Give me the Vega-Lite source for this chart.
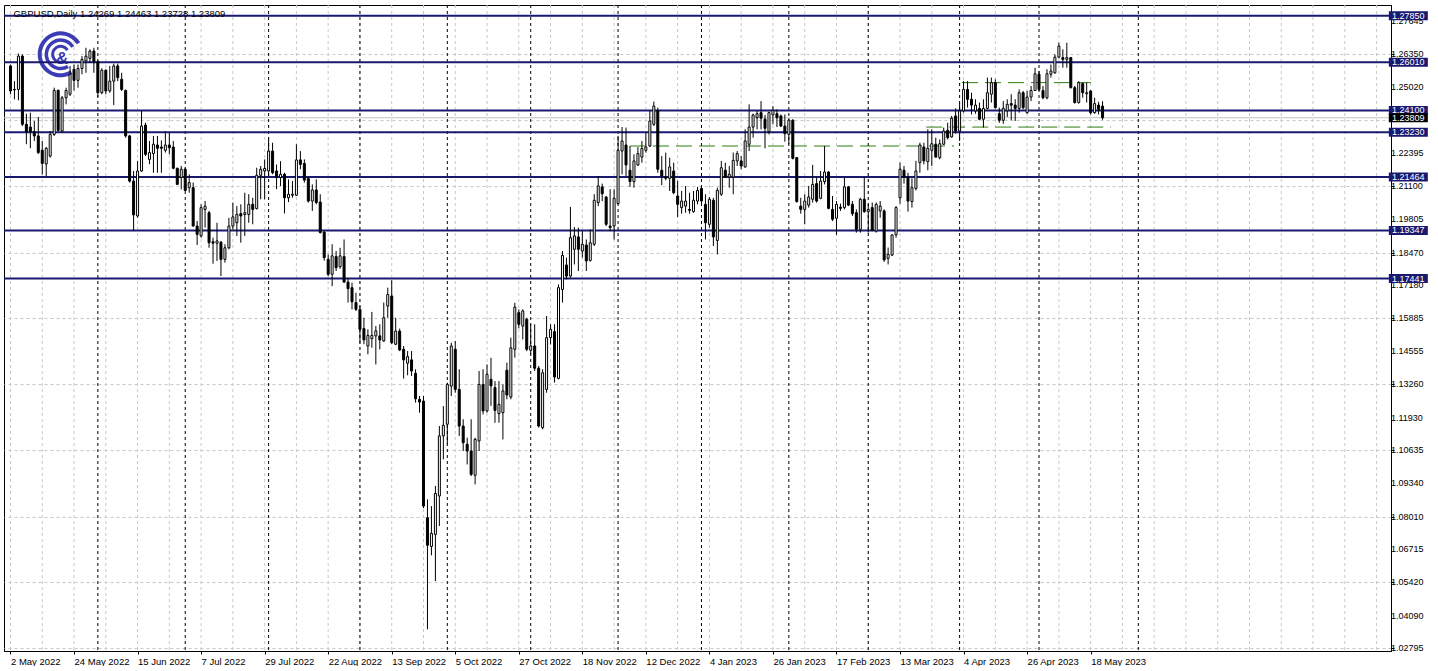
{
"$schema":"https://vega.github.io/schema/vega-lite/v6.json",
"width":1387,"height":646,
"padding":{"left":3,"top":4,"right":0,"bottom":0},
"autosize":{"type":"pad"},
"background":"white",
"config":{"view":{"stroke":"black","strokeWidth":1},"font":"Liberation Sans","axis":{"title":null}},
"datasets":{
"one":[{}],
"yticks":[{"v":1.02795},{"v":1.0409},{"v":1.0542},{"v":1.06715},{"v":1.0801},{"v":1.0934},{"v":1.10635},{"v":1.1193},{"v":1.1326},{"v":1.14555},{"v":1.15885},{"v":1.1718},{"v":1.1847},{"v":1.19805},{"v":1.211},{"v":1.22395},{"v":1.2502},{"v":1.2635},{"v":1.27645}],
"vgrid":[{"i":0},{"i":8},{"i":16},{"i":24},{"i":32},{"i":40},{"i":48},{"i":56},{"i":64},{"i":72},{"i":80},{"i":88},{"i":96},{"i":104},{"i":112},{"i":120},{"i":128},{"i":136},{"i":144},{"i":152},{"i":160},{"i":168},{"i":176},{"i":184},{"i":192},{"i":200},{"i":208},{"i":216},{"i":224},{"i":232},{"i":240},{"i":248},{"i":256},{"i":264},{"i":272},{"i":280},{"i":288},{"i":296},{"i":304},{"i":312},{"i":320},{"i":328},{"i":336},{"i":344}],
"seps":[{"i":22},{"i":44},{"i":65},{"i":88},{"i":110},{"i":131},{"i":153},{"i":174},{"i":196},{"i":216},{"i":239},{"i":259},{"i":284}],
"levels":[{"lvl":1.2785},{"lvl":1.2601},{"lvl":1.241},{"lvl":1.2323},{"lvl":1.21464},{"lvl":1.19347},{"lvl":1.17441}],
"trend":[{"x0":156,"x1":237.6,"lvl":1.2269},{"x0":230.6,"x1":277.1,"lvl":1.2344},{"x0":239.6,"x1":272.1,"lvl":1.252}],
"candles":[
{"i":0,"o":1.2586,"h":1.2592,"l":1.2474,"c":1.2487},
{"i":1,"o":1.2493,"h":1.2526,"l":1.2454,"c":1.2491},
{"i":2,"o":1.2493,"h":1.2635,"l":1.245,"c":1.2625},
{"i":3,"o":1.2625,"h":1.2632,"l":1.2348,"c":1.2355},
{"i":4,"o":1.2355,"h":1.2397,"l":1.2276,"c":1.2326},
{"i":5,"o":1.2344,"h":1.2401,"l":1.226,"c":1.2326},
{"i":6,"o":1.2326,"h":1.2368,"l":1.2289,"c":1.2309},
{"i":7,"o":1.2309,"h":1.2384,"l":1.2237,"c":1.2243},
{"i":8,"o":1.2252,"h":1.2289,"l":1.2157,"c":1.22},
{"i":9,"o":1.2198,"h":1.2265,"l":1.215,"c":1.226},
{"i":10,"o":1.2229,"h":1.2328,"l":1.2223,"c":1.2315},
{"i":11,"o":1.2315,"h":1.25,"l":1.2309,"c":1.2489},
{"i":12,"o":1.2489,"h":1.2493,"l":1.2326,"c":1.2331},
{"i":13,"o":1.2328,"h":1.2467,"l":1.2322,"c":1.246},
{"i":14,"o":1.246,"h":1.25,"l":1.2434,"c":1.2489},
{"i":15,"o":1.2474,"h":1.2586,"l":1.2467,"c":1.2553},
{"i":16,"o":1.2573,"h":1.2592,"l":1.2489,"c":1.2529},
{"i":17,"o":1.2529,"h":1.2592,"l":1.25,"c":1.2576},
{"i":18,"o":1.2576,"h":1.2625,"l":1.2553,"c":1.2612},
{"i":19,"o":1.2606,"h":1.2658,"l":1.2559,"c":1.2625},
{"i":20,"o":1.2616,"h":1.2652,"l":1.2599,"c":1.2645},
{"i":21,"o":1.2645,"h":1.2658,"l":1.2559,"c":1.2603},
{"i":22,"o":1.2603,"h":1.2608,"l":1.2463,"c":1.248},
{"i":23,"o":1.248,"h":1.2577,"l":1.2474,"c":1.2569},
{"i":24,"o":1.2569,"h":1.2573,"l":1.2474,"c":1.2487},
{"i":25,"o":1.2487,"h":1.2586,"l":1.248,"c":1.2526},
{"i":26,"o":1.2526,"h":1.2595,"l":1.2431,"c":1.2586},
{"i":27,"o":1.2586,"h":1.2595,"l":1.2526,"c":1.254},
{"i":28,"o":1.2533,"h":1.2559,"l":1.2487,"c":1.2493},
{"i":29,"o":1.2489,"h":1.2493,"l":1.2302,"c":1.2309},
{"i":30,"o":1.2309,"h":1.2313,"l":1.2124,"c":1.213},
{"i":31,"o":1.213,"h":1.217,"l":1.1932,"c":1.1996},
{"i":32,"o":1.1992,"h":1.221,"l":1.1985,"c":1.217},
{"i":33,"o":1.217,"h":1.2408,"l":1.2167,"c":1.2348},
{"i":34,"o":1.2352,"h":1.2361,"l":1.2229,"c":1.2236},
{"i":35,"o":1.2216,"h":1.2289,"l":1.2197,"c":1.2243},
{"i":36,"o":1.2239,"h":1.2309,"l":1.2163,"c":1.2276},
{"i":37,"o":1.2273,"h":1.2309,"l":1.2163,"c":1.226},
{"i":38,"o":1.2265,"h":1.2291,"l":1.2163,"c":1.226},
{"i":39,"o":1.2252,"h":1.2328,"l":1.2243,"c":1.2273},
{"i":40,"o":1.2273,"h":1.2322,"l":1.2236,"c":1.2262},
{"i":41,"o":1.2265,"h":1.2289,"l":1.2177,"c":1.2181},
{"i":42,"o":1.2181,"h":1.2183,"l":1.2115,"c":1.2117},
{"i":43,"o":1.2144,"h":1.219,"l":1.2097,"c":1.2177},
{"i":44,"o":1.2177,"h":1.2183,"l":1.2091,"c":1.2093},
{"i":45,"o":1.2104,"h":1.2157,"l":1.2084,"c":1.2124},
{"i":46,"o":1.2104,"h":1.2124,"l":1.1951,"c":1.1952},
{"i":47,"o":1.1952,"h":1.1972,"l":1.1877,"c":1.1919},
{"i":48,"o":1.1913,"h":1.2038,"l":1.1906,"c":1.2025},
{"i":49,"o":1.2018,"h":1.2051,"l":1.1946,"c":1.2031},
{"i":50,"o":1.2005,"h":1.2012,"l":1.1866,"c":1.1886},
{"i":51,"o":1.189,"h":1.1906,"l":1.1803,"c":1.1884},
{"i":52,"o":1.1884,"h":1.1965,"l":1.1814,"c":1.1893},
{"i":53,"o":1.1888,"h":1.1893,"l":1.1754,"c":1.182},
{"i":54,"o":1.182,"h":1.188,"l":1.1807,"c":1.1866},
{"i":55,"o":1.1866,"h":1.1985,"l":1.186,"c":1.1952},
{"i":56,"o":1.1952,"h":1.2045,"l":1.1939,"c":1.1988},
{"i":57,"o":1.1965,"h":1.2031,"l":1.1913,"c":1.1998},
{"i":58,"o":1.2001,"h":1.2038,"l":1.1886,"c":1.1992},
{"i":59,"o":1.1998,"h":1.2084,"l":1.1913,"c":1.2005},
{"i":60,"o":1.1998,"h":1.2078,"l":1.1965,"c":1.2038},
{"i":61,"o":1.2038,"h":1.2064,"l":1.1959,"c":1.2018},
{"i":62,"o":1.2021,"h":1.2183,"l":1.2018,"c":1.2153},
{"i":63,"o":1.2153,"h":1.219,"l":1.2058,"c":1.2177},
{"i":64,"o":1.217,"h":1.2216,"l":1.2058,"c":1.218},
{"i":65,"o":1.217,"h":1.2302,"l":1.215,"c":1.2249},
{"i":66,"o":1.2249,"h":1.2282,"l":1.2157,"c":1.2163},
{"i":67,"o":1.217,"h":1.2196,"l":1.2098,"c":1.2144},
{"i":68,"o":1.2144,"h":1.2209,"l":1.2111,"c":1.2157},
{"i":69,"o":1.2157,"h":1.2163,"l":1.2002,"c":1.2064},
{"i":70,"o":1.2064,"h":1.2137,"l":1.2047,"c":1.2078},
{"i":71,"o":1.2074,"h":1.213,"l":1.2064,"c":1.2078},
{"i":72,"o":1.2074,"h":1.2276,"l":1.2071,"c":1.2214},
{"i":73,"o":1.2214,"h":1.2249,"l":1.2177,"c":1.2196},
{"i":74,"o":1.22,"h":1.2216,"l":1.2124,"c":1.2134},
{"i":75,"o":1.214,"h":1.2144,"l":1.2045,"c":1.2051},
{"i":76,"o":1.2051,"h":1.2117,"l":1.2012,"c":1.2095},
{"i":77,"o":1.2095,"h":1.2137,"l":1.2038,"c":1.2045},
{"i":78,"o":1.2047,"h":1.2078,"l":1.1923,"c":1.1926},
{"i":79,"o":1.1928,"h":1.1932,"l":1.1815,"c":1.1827},
{"i":80,"o":1.182,"h":1.184,"l":1.1754,"c":1.1761},
{"i":81,"o":1.1761,"h":1.188,"l":1.1714,"c":1.1834},
{"i":82,"o":1.1831,"h":1.1853,"l":1.1774,"c":1.1787},
{"i":83,"o":1.1791,"h":1.1866,"l":1.1783,"c":1.1834},
{"i":84,"o":1.1831,"h":1.1899,"l":1.1728,"c":1.173},
{"i":85,"o":1.173,"h":1.1747,"l":1.1649,"c":1.1704},
{"i":86,"o":1.1708,"h":1.1728,"l":1.1622,"c":1.1652},
{"i":87,"o":1.1649,"h":1.1688,"l":1.1616,"c":1.1622},
{"i":88,"o":1.1622,"h":1.1635,"l":1.149,"c":1.1543},
{"i":89,"o":1.1546,"h":1.1589,"l":1.1484,"c":1.1501},
{"i":90,"o":1.1477,"h":1.1543,"l":1.1444,"c":1.1519},
{"i":91,"o":1.1506,"h":1.1612,"l":1.147,"c":1.1519},
{"i":92,"o":1.1517,"h":1.1556,"l":1.1404,"c":1.1537},
{"i":93,"o":1.1517,"h":1.1563,"l":1.1464,"c":1.1501},
{"i":94,"o":1.1497,"h":1.1649,"l":1.1493,"c":1.1589},
{"i":95,"o":1.1635,"h":1.1708,"l":1.1589,"c":1.1681},
{"i":96,"o":1.1675,"h":1.1738,"l":1.1484,"c":1.149},
{"i":97,"o":1.1484,"h":1.1589,"l":1.148,"c":1.1536},
{"i":98,"o":1.1536,"h":1.1546,"l":1.1457,"c":1.1461},
{"i":99,"o":1.1464,"h":1.1477,"l":1.1348,"c":1.1422},
{"i":100,"o":1.1409,"h":1.1457,"l":1.1361,"c":1.1435},
{"i":101,"o":1.1422,"h":1.1457,"l":1.1358,"c":1.1378},
{"i":102,"o":1.1369,"h":1.1385,"l":1.1253,"c":1.1268},
{"i":103,"o":1.1266,"h":1.1279,"l":1.1213,"c":1.1255},
{"i":104,"o":1.1259,"h":1.1279,"l":1.0835,"c":1.0843},
{"i":105,"o":1.0797,"h":1.087,"l":1.0355,"c":1.0688},
{"i":106,"o":1.0683,"h":1.0843,"l":1.0648,"c":1.0735},
{"i":107,"o":1.0731,"h":1.0923,"l":1.0546,"c":1.0893},
{"i":108,"o":1.0883,"h":1.116,"l":1.0764,"c":1.1121},
{"i":109,"o":1.1121,"h":1.1239,"l":1.1028,"c":1.1163},
{"i":110,"o":1.1167,"h":1.1332,"l":1.1088,"c":1.1325},
{"i":111,"o":1.1318,"h":1.149,"l":1.1279,"c":1.1477},
{"i":112,"o":1.1464,"h":1.1497,"l":1.1292,"c":1.1305},
{"i":113,"o":1.1305,"h":1.1385,"l":1.1121,"c":1.116},
{"i":114,"o":1.116,"h":1.1187,"l":1.1061,"c":1.1094},
{"i":115,"o":1.1088,"h":1.1114,"l":1.1008,"c":1.1061},
{"i":116,"o":1.1061,"h":1.1187,"l":1.0962,"c":1.0969},
{"i":117,"o":1.0965,"h":1.1114,"l":1.0929,"c":1.1107},
{"i":118,"o":1.1101,"h":1.1378,"l":1.1061,"c":1.1325},
{"i":119,"o":1.1325,"h":1.1385,"l":1.1206,"c":1.122},
{"i":120,"o":1.122,"h":1.1404,"l":1.1213,"c":1.1365},
{"i":121,"o":1.1345,"h":1.143,"l":1.124,"c":1.1319},
{"i":122,"o":1.1312,"h":1.1338,"l":1.1173,"c":1.1222},
{"i":123,"o":1.1209,"h":1.1338,"l":1.1173,"c":1.1246},
{"i":124,"o":1.1213,"h":1.1325,"l":1.1107,"c":1.1299},
{"i":125,"o":1.1381,"h":1.1411,"l":1.1266,"c":1.1283},
{"i":126,"o":1.1275,"h":1.151,"l":1.1266,"c":1.147},
{"i":127,"o":1.1464,"h":1.1648,"l":1.1431,"c":1.1631},
{"i":128,"o":1.1609,"h":1.1622,"l":1.1547,"c":1.1563},
{"i":129,"o":1.1556,"h":1.1622,"l":1.1503,"c":1.1616},
{"i":130,"o":1.1583,"h":1.1589,"l":1.1457,"c":1.1464},
{"i":131,"o":1.146,"h":1.1563,"l":1.1444,"c":1.1477},
{"i":132,"o":1.1477,"h":1.1563,"l":1.1378,"c":1.1389},
{"i":133,"o":1.1389,"h":1.1398,"l":1.1154,"c":1.116},
{"i":134,"o":1.1154,"h":1.1385,"l":1.1147,"c":1.1371},
{"i":135,"o":1.1305,"h":1.1596,"l":1.1292,"c":1.151},
{"i":136,"o":1.151,"h":1.1563,"l":1.1483,"c":1.1543},
{"i":137,"o":1.1534,"h":1.1563,"l":1.1332,"c":1.1354},
{"i":138,"o":1.1349,"h":1.1721,"l":1.1345,"c":1.1708},
{"i":139,"o":1.1701,"h":1.1853,"l":1.1649,"c":1.1836},
{"i":140,"o":1.1798,"h":1.1827,"l":1.1741,"c":1.1754},
{"i":141,"o":1.1754,"h":1.2028,"l":1.1748,"c":1.1906},
{"i":142,"o":1.186,"h":1.1948,"l":1.18,"c":1.1913},
{"i":143,"o":1.1909,"h":1.1946,"l":1.1774,"c":1.186},
{"i":144,"o":1.1853,"h":1.1932,"l":1.1827,"c":1.188},
{"i":145,"o":1.1877,"h":1.1899,"l":1.1774,"c":1.1814},
{"i":146,"o":1.1816,"h":1.1939,"l":1.1811,"c":1.1886},
{"i":147,"o":1.188,"h":1.2078,"l":1.1873,"c":1.2054},
{"i":148,"o":1.2045,"h":1.215,"l":1.2031,"c":1.2111},
{"i":149,"o":1.2107,"h":1.212,"l":1.2051,"c":1.208},
{"i":150,"o":1.2067,"h":1.2071,"l":1.1952,"c":1.1959},
{"i":151,"o":1.1952,"h":1.2098,"l":1.1932,"c":1.1946},
{"i":152,"o":1.1952,"h":1.2098,"l":1.1899,"c":1.2062},
{"i":153,"o":1.2041,"h":1.2309,"l":1.2038,"c":1.2252},
{"i":154,"o":1.2249,"h":1.2344,"l":1.2157,"c":1.2289},
{"i":155,"o":1.2273,"h":1.2342,"l":1.215,"c":1.2194},
{"i":156,"o":1.2173,"h":1.2269,"l":1.2107,"c":1.2128},
{"i":157,"o":1.2128,"h":1.2236,"l":1.2104,"c":1.221},
{"i":158,"o":1.2194,"h":1.2265,"l":1.219,"c":1.2239},
{"i":159,"o":1.2225,"h":1.2289,"l":1.2203,"c":1.2259},
{"i":160,"o":1.2252,"h":1.2322,"l":1.2243,"c":1.2265},
{"i":161,"o":1.2269,"h":1.2408,"l":1.2265,"c":1.2368},
{"i":162,"o":1.2355,"h":1.2445,"l":1.2348,"c":1.2427},
{"i":163,"o":1.241,"h":1.2421,"l":1.2163,"c":1.2177},
{"i":164,"o":1.2173,"h":1.2229,"l":1.2114,"c":1.215},
{"i":165,"o":1.2146,"h":1.2243,"l":1.2133,"c":1.2141},
{"i":166,"o":1.2141,"h":1.2223,"l":1.2091,"c":1.2186},
{"i":167,"o":1.217,"h":1.2203,"l":1.2078,"c":1.2084},
{"i":168,"o":1.2071,"h":1.2131,"l":1.1988,"c":1.2038},
{"i":169,"o":1.2025,"h":1.2091,"l":1.2001,"c":1.2051},
{"i":170,"o":1.2031,"h":1.2111,"l":1.2005,"c":1.2051},
{"i":171,"o":1.2018,"h":1.2084,"l":1.2001,"c":1.2014},
{"i":172,"o":1.2009,"h":1.2091,"l":1.2005,"c":1.2054},
{"i":173,"o":1.2051,"h":1.2107,"l":1.2038,"c":1.2093},
{"i":174,"o":1.2101,"h":1.2111,"l":1.2041,"c":1.2051},
{"i":175,"o":1.2038,"h":1.2078,"l":1.1899,"c":1.1965},
{"i":176,"o":1.1959,"h":1.2067,"l":1.1946,"c":1.2058},
{"i":177,"o":1.2054,"h":1.2064,"l":1.1873,"c":1.1909},
{"i":178,"o":1.1895,"h":1.2104,"l":1.184,"c":1.2093},
{"i":179,"o":1.2078,"h":1.221,"l":1.2071,"c":1.2183},
{"i":180,"o":1.2173,"h":1.2203,"l":1.2144,"c":1.2146},
{"i":181,"o":1.2146,"h":1.219,"l":1.2104,"c":1.2157},
{"i":182,"o":1.2146,"h":1.2243,"l":1.2078,"c":1.2212},
{"i":183,"o":1.221,"h":1.2249,"l":1.219,"c":1.2239},
{"i":184,"o":1.221,"h":1.2229,"l":1.2177,"c":1.219},
{"i":185,"o":1.2186,"h":1.2335,"l":1.2183,"c":1.2289},
{"i":186,"o":1.2276,"h":1.2434,"l":1.2249,"c":1.2344},
{"i":187,"o":1.2344,"h":1.2397,"l":1.2302,"c":1.2392},
{"i":188,"o":1.2381,"h":1.2408,"l":1.2335,"c":1.2397},
{"i":189,"o":1.2401,"h":1.2447,"l":1.2335,"c":1.2379},
{"i":190,"o":1.2375,"h":1.2392,"l":1.226,"c":1.2339},
{"i":191,"o":1.2326,"h":1.2405,"l":1.2315,"c":1.2401},
{"i":192,"o":1.2392,"h":1.2427,"l":1.2355,"c":1.241},
{"i":193,"o":1.2397,"h":1.2414,"l":1.2344,"c":1.2381},
{"i":194,"o":1.2388,"h":1.2394,"l":1.2344,"c":1.2348},
{"i":195,"o":1.2348,"h":1.2394,"l":1.2286,"c":1.2318},
{"i":196,"o":1.2315,"h":1.2379,"l":1.2276,"c":1.2371},
{"i":197,"o":1.2371,"h":1.2375,"l":1.2216,"c":1.222},
{"i":198,"o":1.2223,"h":1.2225,"l":1.2045,"c":1.2049},
{"i":199,"o":1.2031,"h":1.2064,"l":1.2001,"c":1.2018},
{"i":200,"o":1.2018,"h":1.2078,"l":1.1959,"c":1.2051},
{"i":201,"o":1.2035,"h":1.2111,"l":1.2025,"c":1.2067},
{"i":202,"o":1.2058,"h":1.2194,"l":1.2045,"c":1.2117},
{"i":203,"o":1.212,"h":1.2144,"l":1.2045,"c":1.2051},
{"i":204,"o":1.2062,"h":1.217,"l":1.2058,"c":1.213},
{"i":205,"o":1.2128,"h":1.2269,"l":1.2117,"c":1.2166},
{"i":206,"o":1.2166,"h":1.217,"l":1.2018,"c":1.2022},
{"i":207,"o":1.2018,"h":1.2071,"l":1.1972,"c":1.1979},
{"i":208,"o":1.1983,"h":1.2051,"l":1.1917,"c":1.2038},
{"i":209,"o":1.2027,"h":1.2041,"l":1.2012,"c":1.2022},
{"i":210,"o":1.2025,"h":1.2144,"l":1.2018,"c":1.2107},
{"i":211,"o":1.2107,"h":1.2111,"l":1.2031,"c":1.2035},
{"i":212,"o":1.2038,"h":1.2051,"l":1.1992,"c":1.2001},
{"i":213,"o":1.2005,"h":1.2018,"l":1.1926,"c":1.1939},
{"i":214,"o":1.1939,"h":1.2064,"l":1.1926,"c":1.2058},
{"i":215,"o":1.2058,"h":1.2146,"l":1.2005,"c":1.2009},
{"i":216,"o":1.2009,"h":1.2038,"l":1.1926,"c":1.2018},
{"i":217,"o":1.2025,"h":1.2045,"l":1.1932,"c":1.1935},
{"i":218,"o":1.1932,"h":1.2045,"l":1.1926,"c":1.2038},
{"i":219,"o":1.2012,"h":1.2051,"l":1.1985,"c":1.2031},
{"i":220,"o":1.2012,"h":1.2018,"l":1.181,"c":1.1818},
{"i":221,"o":1.1824,"h":1.1867,"l":1.18,"c":1.184},
{"i":222,"o":1.1837,"h":1.1919,"l":1.1833,"c":1.1917},
{"i":223,"o":1.1917,"h":1.2031,"l":1.1906,"c":1.2025},
{"i":224,"o":1.2064,"h":1.2203,"l":1.204,"c":1.2177},
{"i":225,"o":1.2173,"h":1.219,"l":1.212,"c":1.2146},
{"i":226,"o":1.2146,"h":1.2163,"l":1.2009,"c":1.2051},
{"i":227,"o":1.2049,"h":1.2141,"l":1.2025,"c":1.2104},
{"i":228,"o":1.2101,"h":1.221,"l":1.2093,"c":1.217},
{"i":229,"o":1.2203,"h":1.2282,"l":1.2163,"c":1.2273},
{"i":230,"o":1.2265,"h":1.2282,"l":1.2196,"c":1.221},
{"i":231,"o":1.2207,"h":1.2335,"l":1.2173,"c":1.226},
{"i":232,"o":1.2252,"h":1.2335,"l":1.219,"c":1.2278},
{"i":233,"o":1.2276,"h":1.2302,"l":1.2223,"c":1.2225},
{"i":234,"o":1.2223,"h":1.2295,"l":1.2216,"c":1.2278},
{"i":235,"o":1.2276,"h":1.2342,"l":1.2273,"c":1.2328},
{"i":236,"o":1.2331,"h":1.2361,"l":1.2295,"c":1.2302},
{"i":237,"o":1.2305,"h":1.2388,"l":1.2302,"c":1.2379},
{"i":238,"o":1.2388,"h":1.2418,"l":1.2318,"c":1.2328},
{"i":239,"o":1.2328,"h":1.244,"l":1.2289,"c":1.2408},
{"i":240,"o":1.2408,"h":1.2526,"l":1.2401,"c":1.2493},
{"i":241,"o":1.2493,"h":1.2526,"l":1.2421,"c":1.2454},
{"i":242,"o":1.2454,"h":1.248,"l":1.2394,"c":1.2431},
{"i":243,"o":1.2408,"h":1.2454,"l":1.2397,"c":1.2431},
{"i":244,"o":1.2418,"h":1.2441,"l":1.2371,"c":1.2375},
{"i":245,"o":1.2375,"h":1.2454,"l":1.2342,"c":1.2418},
{"i":246,"o":1.2418,"h":1.254,"l":1.2414,"c":1.248},
{"i":247,"o":1.2474,"h":1.254,"l":1.2441,"c":1.252},
{"i":248,"o":1.252,"h":1.2533,"l":1.2418,"c":1.2421},
{"i":249,"o":1.2397,"h":1.2421,"l":1.2361,"c":1.2371},
{"i":250,"o":1.2371,"h":1.2447,"l":1.2357,"c":1.2418},
{"i":251,"o":1.2408,"h":1.2454,"l":1.2384,"c":1.2434},
{"i":252,"o":1.2437,"h":1.2474,"l":1.2371,"c":1.2431},
{"i":253,"o":1.2431,"h":1.2454,"l":1.2368,"c":1.2418},
{"i":254,"o":1.2418,"h":1.2493,"l":1.2401,"c":1.248},
{"i":255,"o":1.248,"h":1.2487,"l":1.2414,"c":1.2421},
{"i":256,"o":1.2401,"h":1.2487,"l":1.2397,"c":1.2463},
{"i":257,"o":1.2463,"h":1.2507,"l":1.2447,"c":1.2489},
{"i":258,"o":1.2489,"h":1.2579,"l":1.2487,"c":1.2555},
{"i":259,"o":1.2553,"h":1.2566,"l":1.2487,"c":1.2493},
{"i":260,"o":1.2489,"h":1.2507,"l":1.2454,"c":1.246},
{"i":261,"o":1.246,"h":1.2573,"l":1.2454,"c":1.2555},
{"i":262,"o":1.2553,"h":1.2592,"l":1.254,"c":1.2566},
{"i":263,"o":1.2559,"h":1.2632,"l":1.2555,"c":1.2621},
{"i":264,"o":1.2621,"h":1.2678,"l":1.2616,"c":1.2665},
{"i":265,"o":1.2619,"h":1.2652,"l":1.2579,"c":1.2612},
{"i":266,"o":1.2612,"h":1.2678,"l":1.2579,"c":1.2619},
{"i":267,"o":1.2619,"h":1.2621,"l":1.2497,"c":1.25},
{"i":268,"o":1.25,"h":1.2507,"l":1.2437,"c":1.2441},
{"i":269,"o":1.2441,"h":1.2526,"l":1.2437,"c":1.252},
{"i":270,"o":1.2516,"h":1.252,"l":1.246,"c":1.248},
{"i":271,"o":1.2476,"h":1.252,"l":1.2441,"c":1.248},
{"i":272,"o":1.2487,"h":1.2489,"l":1.2394,"c":1.2401},
{"i":273,"o":1.2401,"h":1.246,"l":1.2397,"c":1.2437},
{"i":274,"o":1.2431,"h":1.2444,"l":1.2394,"c":1.2414},
{"i":275,"o":1.24269,"h":1.24463,"l":1.23728,"c":1.23809}
]},
"layer":[
{"data":{"name":"candles"},"mark":{"type":"rule","opacity":0},
 "encoding":{"x":{"field":"i","type":"quantitative","scale":{"domain":[-0.375,346.375],"nice":false,"zero":false},
   "axis":{"values":[0,16,32,48,64,80,96,112,128,144,160,176,192,208,224,240,256,272],
    "labelExpr":"['2 May 2022','24 May 2022','15 Jun 2022','7 Jul 2022','29 Jul 2022','22 Aug 2022','13 Sep 2022','5 Oct 2022','27 Oct 2022','18 Nov 2022','12 Dec 2022','4 Jan 2023','26 Jan 2023','17 Feb 2023','13 Mar 2023','4 Apr 2023','26 Apr 2023','18 May 2023'][round(datum.value/16)]",
    "labelAlign":"left","labelBaseline":"top","labelFont":"Liberation Sans","labelFontSize":9.5,"labelColor":"black","labelPadding":2,"labelOverlap":false,"labelBound":false,"labelFlush":false,
    "tickSize":3,"tickColor":"black","domainColor":"black","grid":false,"title":null}},
  "y":{"field":"l","type":"quantitative","scale":{"domain":[1.02692,1.28274],"nice":false,"zero":false},
   "axis":{"orient":"right","values":[1.02795,1.0409,1.0542,1.06715,1.0801,1.0934,1.10635,1.1193,1.1326,1.14555,1.15885,1.1718,1.1847,1.19805,1.211,1.22395,1.23725,1.2502,1.2635,1.27645],
    "labels":false,"tickSize":3,"tickColor":"black","domainColor":"black","grid":true,"gridColor":"#c8c8c8","gridDash":[3,3],"title":null}},
  "y2":{"field":"h"}}},
{"data":{"name":"yticks"},"mark":{"type":"text","color":"black","fontSize":9,"font":"Liberation Sans","align":"left","baseline":"middle"},
 "encoding":{"x":{"datum":347.625,"type":"quantitative","scale":{"domain":[-0.375,346.375],"nice":false,"zero":false}},
  "y":{"field":"v","type":"quantitative","scale":{"domain":[1.02692,1.28274],"nice":false,"zero":false}},
  "text":{"field":"v","type":"quantitative","format":".5f"}}},
{"data":{"name":"vgrid"},"mark":{"type":"rule","color":"#c8c8c8","strokeDash":[3,3],"strokeWidth":1},
 "encoding":{"x":{"field":"i","type":"quantitative","scale":{"domain":[-0.375,346.375],"nice":false,"zero":false}}}},
{"data":{"name":"seps"},"mark":{"type":"rule","color":"black","strokeDash":[3,3],"strokeWidth":1},
 "encoding":{"x":{"field":"i","type":"quantitative","scale":{"domain":[-0.375,346.375],"nice":false,"zero":false}}}},
{"data":{"values":[{"r":23,"r2":19},{"r":16,"r2":12.5},{"r":9.5,"r2":6.5}]},
 "mark":{"type":"arc","theta":2.6,"theta2":7.3,"color":"#3c3cb4"},
 "encoding":{"x":{"datum":12.625,"type":"quantitative","scale":{"domain":[-0.375,346.375],"nice":false,"zero":false}},
  "y":{"datum":1.26321,"type":"quantitative","scale":{"domain":[1.02692,1.28274],"nice":false,"zero":false}},
  "radius":{"field":"r","type":"quantitative","scale":null},"radius2":{"field":"r2"}}},
{"data":{"name":"one"},"mark":{"type":"text","text":"&","fontSize":17,"fontWeight":"bold","color":"#3c3cb4","align":"center","baseline":"middle"},
 "encoding":{"x":{"datum":13.0,"type":"quantitative","scale":{"domain":[-0.375,346.375],"nice":false,"zero":false}},
  "y":{"datum":1.2615,"type":"quantitative","scale":{"domain":[1.02692,1.28274],"nice":false,"zero":false}}}},
{"data":{"name":"levels"},"mark":{"type":"rule","color":"#191970","strokeWidth":2},
 "encoding":{"y":{"field":"lvl","type":"quantitative","scale":{"domain":[1.02692,1.28274],"nice":false,"zero":false}}}},
{"data":{"name":"one"},"mark":{"type":"rule","color":"#c0c0c0","strokeWidth":1},
 "encoding":{"y":{"datum":1.23809,"type":"quantitative","scale":{"domain":[1.02692,1.28274],"nice":false,"zero":false}}}},
{"data":{"name":"trend"},"mark":{"type":"rule","color":"#2f7f10","strokeWidth":1,"strokeDash":[16,7]},
 "encoding":{"x":{"field":"x0","type":"quantitative","scale":{"domain":[-0.375,346.375],"nice":false,"zero":false}},"x2":{"field":"x1"},
  "y":{"field":"lvl","type":"quantitative","scale":{"domain":[1.02692,1.28274],"nice":false,"zero":false}}}},
{"data":{"name":"candles"},"mark":{"type":"rule","color":"black","strokeWidth":1},
 "encoding":{"x":{"field":"i","type":"quantitative","scale":{"domain":[-0.375,346.375],"nice":false,"zero":false}},
  "y":{"field":"l","type":"quantitative","scale":{"domain":[1.02692,1.28274],"nice":false,"zero":false}},
  "y2":{"field":"h"}}},
{"data":{"name":"candles"},"mark":{"type":"bar","width":2,"stroke":"black","strokeWidth":1},
 "encoding":{"x":{"field":"i","type":"quantitative","scale":{"domain":[-0.375,346.375],"nice":false,"zero":false}},
  "y":{"field":"o","type":"quantitative","scale":{"domain":[1.02692,1.28274],"nice":false,"zero":false}},
  "y2":{"field":"c"},
  "fill":{"condition":{"test":"datum.c >= datum.o","value":"white"},"value":"black"}}},
{"data":{"name":"levels"},"mark":{"type":"tick","orient":"horizontal","color":"#191970","thickness":9,"size":39,"opacity":1},
 "encoding":{"x":{"datum":352.0,"type":"quantitative","scale":{"domain":[-0.375,346.375],"nice":false,"zero":false}},
  "y":{"field":"lvl","type":"quantitative","scale":{"domain":[1.02692,1.28274],"nice":false,"zero":false}}}},
{"data":{"name":"levels"},"mark":{"type":"text","color":"white","fontSize":9,"font":"Liberation Sans","align":"center","baseline":"middle"},
 "encoding":{"x":{"datum":352.0,"type":"quantitative","scale":{"domain":[-0.375,346.375],"nice":false,"zero":false}},
  "y":{"field":"lvl","type":"quantitative","scale":{"domain":[1.02692,1.28274],"nice":false,"zero":false}},
  "text":{"field":"lvl","type":"quantitative","format":".5f"}}},
{"data":{"name":"one"},"mark":{"type":"tick","orient":"horizontal","color":"black","thickness":9,"size":39,"opacity":1},
 "encoding":{"x":{"datum":352.0,"type":"quantitative","scale":{"domain":[-0.375,346.375],"nice":false,"zero":false}},
  "y":{"datum":1.23809,"type":"quantitative","scale":{"domain":[1.02692,1.28274],"nice":false,"zero":false}}}},
{"data":{"name":"one"},"mark":{"type":"text","color":"white","fontSize":9,"font":"Liberation Sans","align":"center","baseline":"middle","text":"1.23809"},
 "encoding":{"x":{"datum":352.0,"type":"quantitative","scale":{"domain":[-0.375,346.375],"nice":false,"zero":false}},
  "y":{"datum":1.23809,"type":"quantitative","scale":{"domain":[1.02692,1.28274],"nice":false,"zero":false}}}},
{"data":{"name":"one"},"mark":{"type":"text","color":"black","fontSize":9.5,"font":"Liberation Sans","align":"left","baseline":"middle","text":"GBPUSD,Daily  1.24269 1.24463 1.23728 1.23809"},
 "encoding":{"x":{"datum":0.75,"type":"quantitative","scale":{"domain":[-0.375,346.375],"nice":false,"zero":false}},
  "y":{"datum":1.27929,"type":"quantitative","scale":{"domain":[1.02692,1.28274],"nice":false,"zero":false}}}}
]
}
